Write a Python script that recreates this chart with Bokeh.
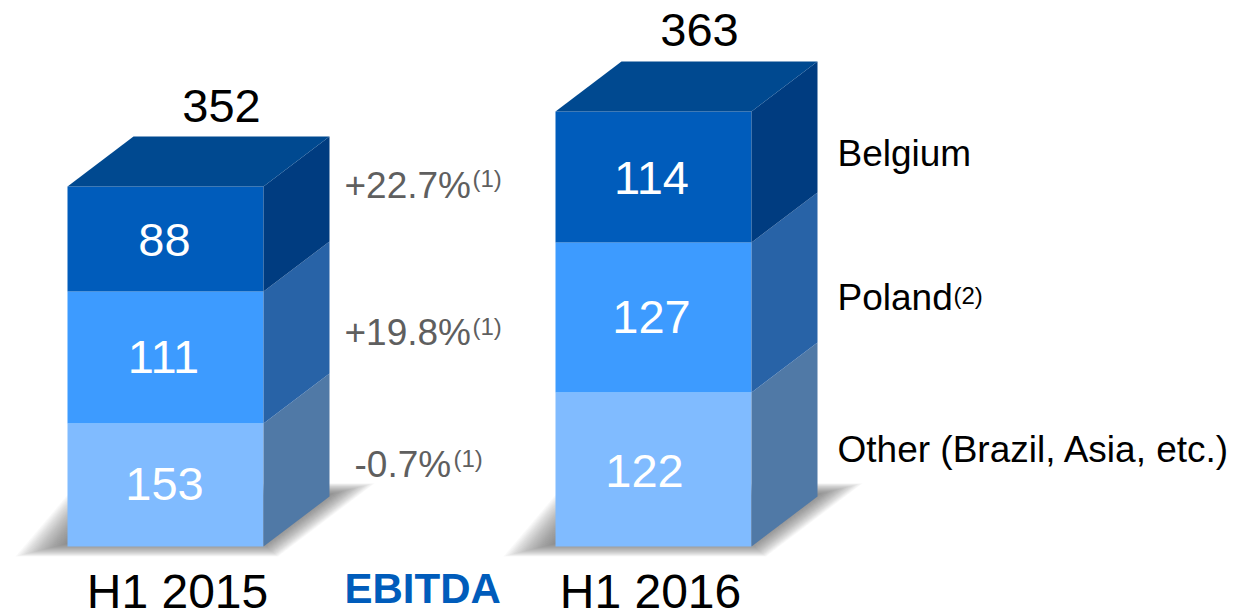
from bokeh.plotting import figure
from bokeh.models import Range1d
from bokeh.core.properties import value
from bokeh.embed import file_html
from bokeh.resources import INLINE

# Data
periods = ["H1 2015", "H1 2016"]
totals = ["352", "363"]
segments = ["Other (Brazil, Asia, etc.)", "Poland", "Belgium"]
labels_2015 = ["153", "111", "88"]
labels_2016 = ["122", "127", "114"]
# drawn segment heights (the source is not to scale)
drawn_2015 = [123, 132, 105]
drawn_2016 = [154, 150, 131]
growth = ["-0.7%", "+19.8%", "+22.7%"]
growth_note = ["(1)", "(1)", "(1)"]
title = "EBITDA"

# Styles
front = ["#80BBFF", "#3D9BFF", "#005CBB"]
side = ["#5079A6", "#2863A7", "#003C80"]
top_col = "#004990"
FONT = value("Liberation Sans")
W, H = 1234, 611
BASE = 546

p = figure(width=W, height=H, output_backend="svg", toolbar_location=None,
           x_axis_type=None, y_axis_type=None, min_border=0,
           x_range=Range1d(1, W + 1), y_range=Range1d(BASE - H, BASE))
p.outline_line_color = None
p.grid.visible = False
p.background_fill_color = "white"
p.border_fill_color = "white"


def txt(x, py, s, size, color="black", align="center", style="normal"):
    p.text([x], [BASE - py + 0.35 * size], text=[s], text_font=FONT, text_font_size=f"{size}px",
           text_color=color, text_align=align, text_baseline="alphabetic",
           text_font_style=style)


def shadow(x0, x1, dx, dy):
    layers = 28
    for k in range(layers):
        d = 14 - k
        xs = [x0 - 24 - d * 2.0, x1 + 6 + d * 0.6, x1 + dx + 20 + d * 1.8, x0 + 24 - d]
        ys = [-3 - d * 0.5, -3 - d * 0.5, 57 + d * 0.45, 57 + d * 0.45]
        p.patch(xs, ys, fill_color="#505050", fill_alpha=0.036, line_color=None)


WIDTH, DX, DY = 196, 66, 50
for x0, heights, labs, total, tot_x, tot_base, lab_base, lab_xs, period, per_x in [
    (68, drawn_2015, labels_2015, totals[0], 222, 122, [500, 373, 256], [165, 164, 165], periods[0], 178),
    (556, drawn_2016, labels_2016, totals[1], 700, 46, [487, 333, 194], [645, 652, 652], periods[1], 651),
]:
    x1 = x0 + WIDTH
    shadow(x0, x1, DX, DY)
    y = 0
    for i, h in enumerate(heights):
        p.quad(left=[x0], right=[x1], bottom=[y], top=[y + h], fill_color=front[i], line_color=None)
        p.patch([x1, x1 + DX, x1 + DX, x1], [y, y + DY, y + h + DY, y + h],
                fill_color=side[i], line_color=None)
        y += h
    p.patch([x0, x1, x1 + DX, x0 + DX], [y, y, y + DY, y + DY], fill_color=top_col, line_color=None)
    for s, b, lx in zip(labs, lab_base, lab_xs):
        txt(lx, b, s, 47, "white")
    txt(tot_x, tot_base, total, 47)
    txt(per_x, 608, period, 48)

# Growth annotations
for s, n, x, nx, b, nb in zip(growth, growth_note, [355, 345, 345], [454, 473, 473],
                              [477, 345, 198], [466, 334, 186]):
    txt(x, b, s, 37, "#5F5F5F", "left")
    txt(nx, nb, n, 24, "#5F5F5F", "left")

txt(345, 603, title, 42, "#005CBB", "left", "bold")

# Segment names
txt(838, 462, segments[0], 37, align="left")
txt(838, 310, segments[1], 37, align="left")
txt(954, 303, "(2)", 24, align="left")
txt(838, 166, segments[2], 37, align="left")

open("out.html", "w").write(file_html(p, INLINE))
